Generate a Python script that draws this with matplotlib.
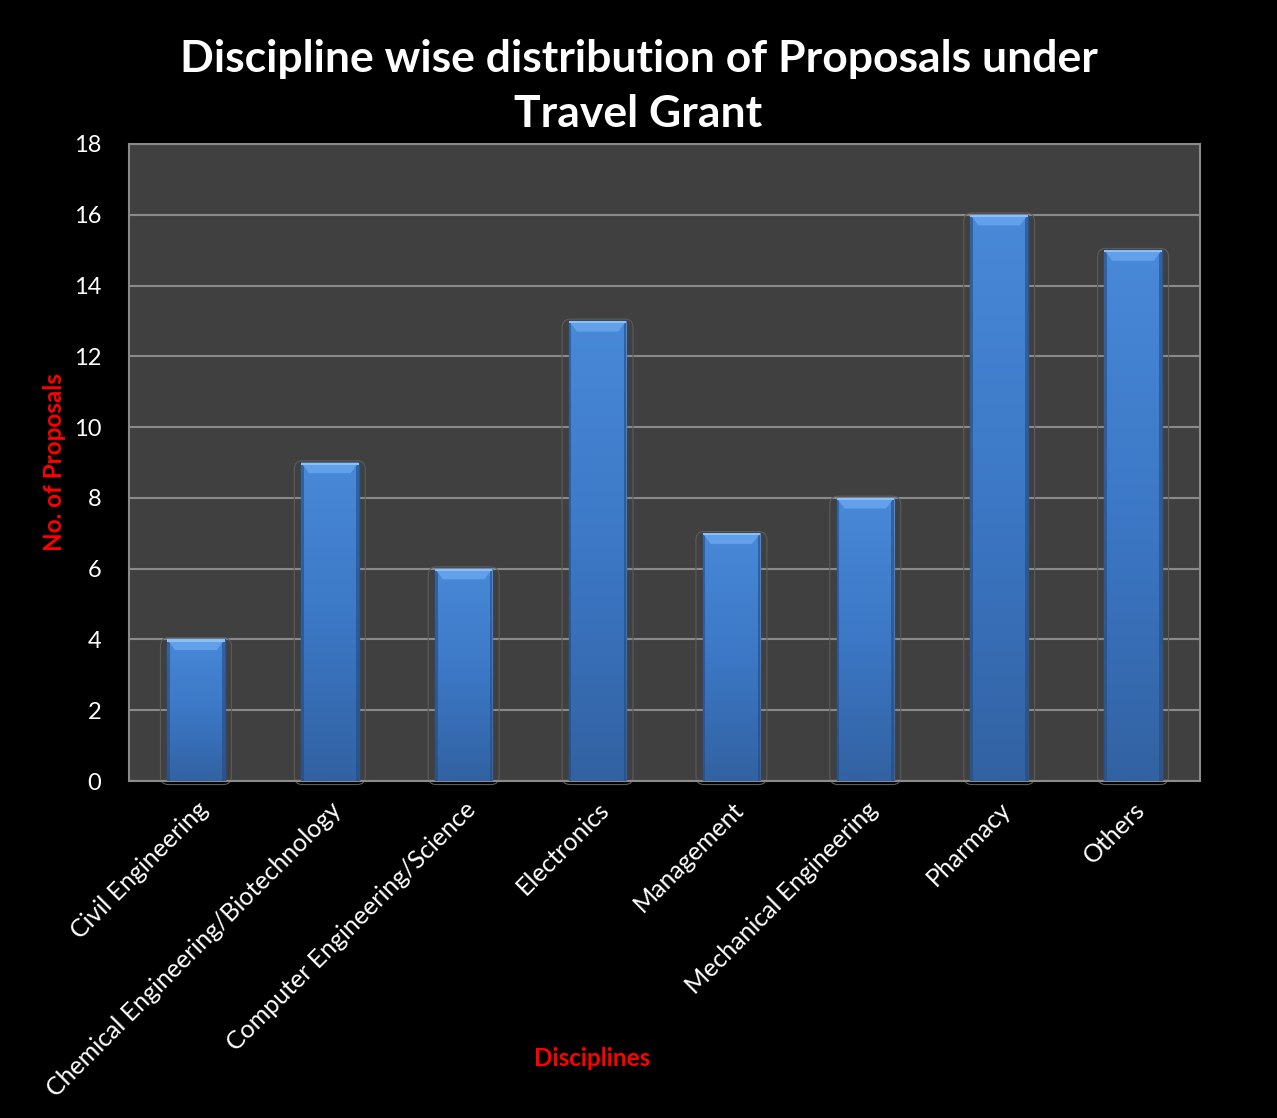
import numpy as np
import matplotlib
matplotlib.use("Agg")
import matplotlib.pyplot as plt
from matplotlib.colors import LinearSegmentedColormap
from matplotlib.patches import Polygon, FancyBboxPatch

categories = ["Civil Engineering", "Chemical Engineering/Biotechnology",
              "Computer Engineering/Science", "Electronics", "Management",
              "Mechanical Engineering", "Pharmacy", "Others"]
proposals = [4, 9, 6, 13, 7, 8, 16, 15]
yticks = [0, 2, 4, 6, 8, 10, 12, 14, 16, 18]

plt.rcParams['font.family'] = ['Lato', 'DejaVu Sans']

fig = plt.figure(figsize=(12.77, 11.18), dpi=100, facecolor='black')
ax = fig.add_axes([0.101, 0.3014, 0.8387, 0.5698])
ax.set_facecolor('#404040')

x = np.arange(len(categories))
bars = ax.bar(x, proposals, width=0.43, color='#3d78c4', zorder=3,
              edgecolor='#2a5590', linewidth=1.0)

# vertical gradient inside each bar, lighter at the top
cmap = LinearSegmentedColormap.from_list('blu', ['#3262a2', '#3c78c6', '#4889d8'])
grad = np.linspace(0, 1, 256).reshape(-1, 1)
inset = 0.06
for b in bars:
    x0, w, h = b.get_x(), b.get_width(), b.get_height()
    # faint shadow outline around the bar
    sh = FancyBboxPatch((x0 - 0.05, -0.1), w + 0.1, h + 0.15,
                        boxstyle="round,pad=0,rounding_size=0.06",
                        mutation_aspect=4, facecolor='none',
                        edgecolor='#5c5c5c', linewidth=0.8, zorder=2.5,
                        clip_on=False)
    ax.add_patch(sh)
    im = ax.imshow(grad, extent=[x0, x0 + w, 0, h], origin='lower', cmap=cmap,
                   aspect='auto', zorder=3.5)
    im.set_clip_path(b)
    # side shading
    ax.fill_between([x0, x0 + 0.02], 0, h, color='#24497a', alpha=0.6,
                    zorder=3.6, linewidth=0)
    ax.fill_between([x0 + w - 0.02, x0 + w], 0, h, color='#24497a', alpha=0.6,
                    zorder=3.6, linewidth=0)
    # bevel highlight at the top
    bevel = Polygon([[x0, h], [x0 + w, h], [x0 + w - inset, h - 0.3],
                     [x0 + inset, h - 0.3]], closed=True,
                    facecolor='#62a0ea', edgecolor='none', zorder=4)
    ax.add_patch(bevel)
    ax.fill_between([x0, x0 + w], h - 0.06, h, color='#8cc0f4', zorder=4.1,
                    linewidth=0)

ax.set_xlim(-0.5, len(categories) - 0.5)
ax.set_ylim(0, 18)
ax.set_yticks(yticks)
ax.yaxis.grid(True, color='#8a8a8a', linewidth=1.5, zorder=1)
ax.set_axisbelow(True)
for s in ax.spines.values():
    s.set_color('#8a8a8a')
    s.set_linewidth(1.5)

ax.set_xticks(x)
ax.set_xticklabels(categories, rotation=45, ha='right', rotation_mode='anchor',
                   color='white', fontsize=18)
ax.tick_params(axis='y', colors='white', labelsize=17, length=0, pad=20)
ax.tick_params(axis='x', length=0, pad=12)

fig.text(0.5, 0.923, "Discipline wise distribution of Proposals under\nTravel Grant",
         ha='center', va='center', color='white', fontsize=32,
         fontweight='bold', linespacing=1.45)
fig.text(0.043, 0.587, "No. of Proposals", rotation=90, ha='center', va='center',
         color='red', fontsize=17.5, fontweight='bold')
fig.text(0.464, 0.053, "Disciplines", ha='center', va='center', color='red',
         fontsize=17.5, fontweight='bold')

plt.savefig('out.png', dpi=100, facecolor='black')
